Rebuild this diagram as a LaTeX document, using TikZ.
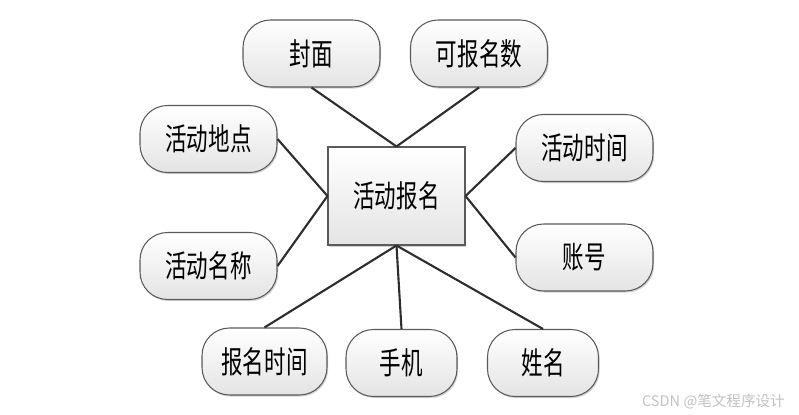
\documentclass[tikz,border=0pt]{standalone}
\usepackage{fontspec}
\newfontfamily\cjk[FakeStretch=0.7]{Noto Sans CJK SC}
\newfontfamily\marksans{Noto Sans CJK SC}
\usepackage{tikz}
\usetikzlibrary{shadows}
\definecolor{ink}{HTML}{2E2E2E}
\definecolor{edge}{HTML}{5A5A5A}
\definecolor{shade}{HTML}{E4E4E4}
\definecolor{mark}{HTML}{C2C2C2}
\tikzset{
  attr/.style={draw=edge, line width=0.6pt, top color=white, bottom color=shade,
               rounded corners=0.55cm, minimum width=2.74cm, minimum height=1.34cm,
               inner sep=2pt, font=\cjk\fontsize{17.5}{17.5}\selectfont,
               drop shadow={shadow xshift=0.7pt, shadow yshift=-0.9pt, opacity=0.35}},
  narrow/.style={attr, minimum width=2.22cm},
  ent/.style={attr, rounded corners=0pt, minimum width=2.74cm, minimum height=1.96cm},
  link/.style={draw=ink, line width=1.2pt},
}

\begin{document}
\begin{tikzpicture}[x=0.02cm, y=-0.02cm]
  \useasboundingbox (0,0) rectangle (799,415);
  % entity in the middle, attributes round it
  \node[ent] (signup) at (396.5,196) {活动报名};
  \node[attr] (cover) at (311.5,53.5) {封面};
  \node[attr] (quota) at (479,53.5) {可报名数};
  \node[attr] (place) at (208.5,139) {活动地点};
  \node[attr] (aname) at (208.5,266) {活动名称};
  \node[attr] (atime) at (584.5,148) {活动时间};
  \node[attr] (acct) at (584.5,257.5) {账号};
  \node[attr, minimum width=2.5cm] (stime) at (264.5,361.5) {报名时间};
  \node[narrow] (phone) at (401.5,363) {手机};
  \node[narrow] (uname) at (543,363) {姓名};
  \draw[link] (cover.south) -- (signup.north);
  \draw[link] (quota.south) -- (signup.north);
  \draw[link] (place.east) -- (signup.west);
  \draw[link] (aname.east) -- (signup.west);
  \draw[link] (atime.west) -- (signup.east);
  \draw[link] (acct.west) -- (signup.east);
  \draw[link] (stime.north) -- (signup.south);
  \draw[link] (phone.north) -- (signup.south);
  \draw[link] (uname.north) -- (signup.south);
  \node[font=\marksans\fontsize{8.3}{9}\selectfont, text=mark, anchor=east] (wm) at (791,402) {CSDN @笔文程序设计};
\end{tikzpicture}
\end{document}
